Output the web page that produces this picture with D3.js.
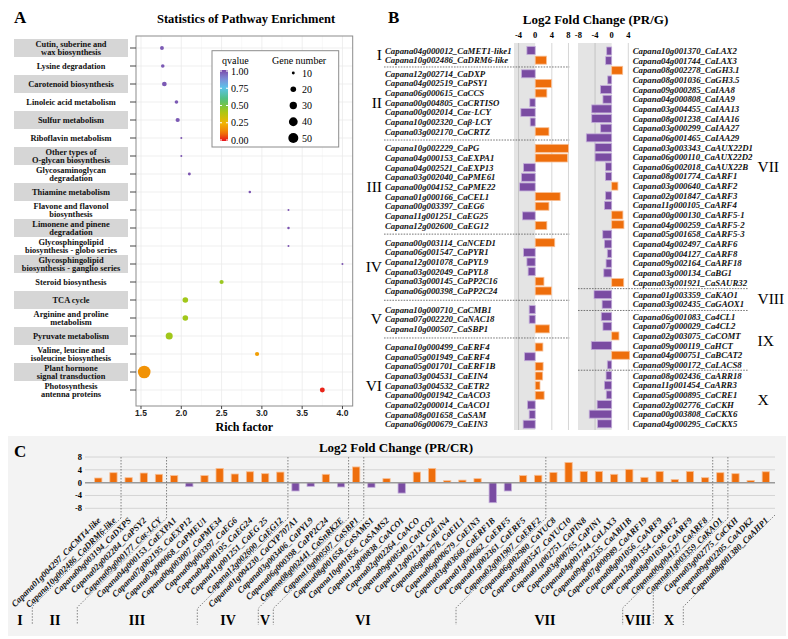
<!DOCTYPE html>
<html><head><meta charset="utf-8">
<script src="https://cdn.jsdelivr.net/npm/d3@7"></script>
<style>body{margin:0;background:#fff} svg{display:block}</style>
</head><body><svg id="c" width="788" height="639"></svg>
<script>
// ---------------- DATA ----------------
// Panel A
const pathways = [
 "Cutin, suberine and\nwax biosynthesis","Lysine degradation","Carotenoid biosynthesis","Linoleic acid metabolism",
 "Sulfur metabolism","Riboflavin metabolism","Other types of\nO-glycan biosynthesis","Glycosaminoglycan\ndegradation",
 "Thiamine metabolism","Flavone and flavonol\nbiosynthesis","Limonene and pinene\ndegradation",
 "Glycosphingolipid\nbiosynthesis - globo series","Glycosphingolipid\nbiosynthesis - ganglio series",
 "Steroid biosynthesis","TCA cycle","Arginine and proline\nmetabolism","Pyruvate metabolism",
 "Valine, leucine and\nisoleucine biosynthesis","Plant hormone\nsignal transduction","Photosynthesis\nantenna proteins"];
const richFactor = [1.76,1.77,1.79,1.94,1.955,2.0,2.0,2.1,2.85,3.33,3.33,3.33,4.0,2.5,2.05,2.05,1.85,2.94,1.54,3.75];
const qvalue     = [0.97,0.97,0.97,0.97,0.97,0.98,0.98,0.98,0.98,0.98,0.98,0.98,0.98,0.44,0.43,0.43,0.43,0.2,0.17,0.02];
const geneNumber = [13,12,16,12,14,8,8,10,9,8,9,8,8,14,20,20,28,14,76,17];
const richTicks = [1.5,2.0,2.5,3.0,3.5,4.0];
const qTicks = [1.00,0.75,0.50,0.25,0.00];
const sizeTicks = [10,20,30,40,50];

// Panel B
const groupsLeft = ["I","II","III","IV","V","VI"];
const groupSizeLeft = [2,7,9,6,3,9];
const genesLeft = [
 "Capana04g000012_CaMET1-like1","Capana10g002486_CaDRM6-like",
 "Capana12g002714_CaDXP","Capana04g002519_CaPSY1","Capana06g000615_CaCCS","Capana00g004805_CaCRTISO","Capana00g002014_Caε-LCY","Capana10g002320_Caβ-LCY","Capana03g002170_CaCRTZ",
 "Capana10g002229_CaPG","Capana04g000153_CaEXPA1","Capana04g002521_CaEXP13","Capana03g002040_CaPME61","Capana00g004152_CaPME22","Capana01g000166_CaCEL1","Capana00g003397_CaEG6","Capana11g001251_CaEG25","Capana12g002600_CaEG12",
 "Capana00g003114_CaNCED1","Capana06g001547_CaPYR1","Capana12g001078_CaPYL9","Capana03g002049_CaPYL8","Capana03g000145_CaPP2C16","Capana06g000398_CaPP2C24",
 "Capana10g000710_CaCMB1","Capana07g002220_CaNAC18","Capana10g000507_CaSBP1",
 "Capana10g000499_CaERF4","Capana05g001949_CaERF4","Capana05g001701_CaERF1B","Capana03g004531_CaEIN4","Capana03g004532_CaETR2","Capana00g001942_CaACO3","Capana02g000014_CaACO1","Capana08g001658_CaSAM","Capana06g000679_CaEIN3"];
const fcLeft = [-2.0,2.7, -3.3,3.9,2.8,-1.3,-3.45,-1.2,3.3, 8.0,7.75,-2.8,-3.3,-3.75,6.0,3.3,-3.05,2.8,
 4.7,-2.8,-2.0,-1.7,2.1,3.9, -1.45,-1.45,3.4, 1.85,-2.55,1.9,1.8,1.15,2.15,-1.85,-1.45,-2.9];
const groupsRight = ["VII","VIII","IX","X"];
const groupSizeRight = [25,2,6,6];
const genesRight = [
 "Capana10g001370_CaLAX2","Capana04g001744_CaLAX3","Capana08g002278_CaGH3.1","Capana08g001036_CaGH3.5","Capana09g000285_CaIAA8","Capana04g000808_CaIAA9","Capana03g004455_CaIAA13","Capana08g001238_CaIAA16","Capana03g000299_CaIAA27","Capana06g001465_CaIAA29","Capana03g003343_CaAUX22D1","Capana06g000110_CaAUX22D2","Capana06g002018_CaAUX22B","Capana08g001774_CaARF1","Capana03g000640_CaARF2","Capana02g001847_CaARF3","Capana11g000105_CaARF4","Capana00g000130_CaARF5-1","Capana04g000259_CaARF5-2","Capana05g001658_CaARF5-3","Capana04g002497_CaARF6","Capana00g004127_CaARF8","Capana09g002164_CaARF18","Capana03g000134_CaBG1","Capana03g001921_CaSAUR32",
 "Capana01g003359_CaKAO1","Capana03g002435_CaGAOX1",
 "Capana06g001083_Ca4CL1","Capana07g000029_Ca4CL2","Capana02g003075_CaCOMT","Capana09g000119_CaHCT","Capana04g000751_CaBCAT2","Capana09g000172_CaLACS8",
 "Capana08g002436_CaARR18","Capana11g001454_CaARR3","Capana05g000895_CaCRE1","Capana02g002776_CaCKH","Capana00g003808_CaCKX6","Capana04g000295_CaCKX5"];
const fcRight = [-1.2,-1.45,2.65,-0.95,-2.7,-2.1,-4.8,-4.8,-2.65,-6.1,-4.0,-4.0,-1.5,-1.5,1.5,-1.5,-1.75,2.7,2.95,-2.15,-1.75,-1.05,-1.35,-1.9,2.9,
 -4.25,-2.3, -2.5,-2.1,1.75,-4.9,4.3,-1.05, -1.35,-1.75,-1.3,-3.5,-5.4,-3.4];
const ticksBLeft = [-4,0,4,8];
const ticksBRight = [-8,-4,0,4];

// Panel C
const groupsC = ["I","II","III","IV","V","VI","VII","VIII","X"];
const groupSizeC = [2,3,8,4,1,12,11,1,3];
const genesC = [
 "Capana01g004297_CaCMT4-like","Capana10g002486_CaDRM6-like",
 "Capana00g003194_CaDXPS","Capana02g002284_CaPSY2","Capana09g000177_Caε-LCY",
 "Capana04g000153_CaEXPA1","Capana07g002195_CaEXP12","Capana03g000068_CaPMEU1","Capana00g003007_CaPME34","Capana00g003397_CaEG6","Capana04g000195_CaEG24","Capana11g001251_CaEG 25","Capana12g002600_CaEG12",
 "Capana01g004230_CaCYP707A1","Capana03g003406_CaPYL9","Capana06g000398_CaPP2C24","Capana08g002441_CaSnRK2E",
 "Capana10g000507_CaSBP1",
 "Capana08g001658_CaSAMS1","Capana10g001856_CaSAMS2","Capana12g000838_CaACO1","Capana02g002264_CaACO","Capana09g000540_CaACO2","Capana12g002124_CaEIN4","Capana06g000678_CaEIL1","Capana06g000679_CaEIN3","Capana03g003660_CaERF1B","Capana01g000662_CaERF5","Capana01g002361_CaERF5","Capana02g001907_CaERF2",
 "Capana06g002980_CaYUC8","Capana03g003547_CaYUC10","Capana01g002751_CaPIN8","Capana03g000765_CaPIN1","Capana04g001744_CaLAX3","Capana09g002235_CaABI1B","Capana07g000989_CaARF19","Capana08g001056_CaARF9","Capana12g001354_CaARF2","Capana08g001036_CaARF9","Capana00g004127_CaARF8",
 "Capana01g003359_CaKAO1",
 "Capana03g002775_CaCKH","Capana09g002205_CaADK2","Capana08g001380_CaAHP1"];
const fcC = [1.45,3.1, 1.55,3.0,2.6, 2.2,-1.25,2.2,4.45,2.7,3.4,2.8,3.3, -2.6,-1.15,2.6,-1.35, 4.9,
 -1.45,1.25,-3.25,3.3,4.45,0.6,0.8,1.25,-6.25,-2.6,2.2,2.3,
 3.2,6.3,3.5,3.5,2.6,4.15,1.65,3.5,1.0,3.5,1.55, 3.1, 2.8,0.7,3.4];
const ticksC = [8,4,0,-4,-8];

// ---------------- LAYOUT / STYLE ----------------
const serif = "'Liberation Serif','Times New Roman',serif";
const sans = "'Liberation Sans',Arial,sans-serif";
const PURPLE = "#7a4ca2", ORANGE = "#ee6e0c";
const PURPLE_EDGE = "#c2acd9", ORANGE_EDGE = "#f8bf94";
const svg = d3.select("#c");

// ======== PANEL A ========
const A = svg.append("g");
A.append("text").attr("x",14).attr("y",23).text("A")
 .attr("font-family",serif).attr("font-weight","bold").attr("font-size",17);
A.append("text").attr("x",246).attr("y",23).attr("text-anchor","middle").text("Statistics of Pathway Enrichment")
 .attr("font-family",serif).attr("font-weight","bold").attr("font-size",12.5);

const pA = {l:136, r:352.7, t:36, b:406};
const xA = d3.scaleLinear().domain([1.438,4.127]).range([pA.l,pA.r]);
const yA = d3.scalePoint().domain(pathways).range([48,390]);
const colorQ = d3.scaleLinear()
 .domain([0,0.12,0.25,0.42,0.58,0.75,0.88,1])
 .range(["#e8121c","#f07c08","#f2b400","#a6c814","#4fbf78","#5cc3ea","#7f8ad6","#7a48a8"]);
const rA = d3.scaleRadial().domain([8,76]).range([1,6.3]);

A.append("rect").attr("x",pA.l).attr("y",pA.t).attr("width",pA.r-pA.l).attr("height",pA.b-pA.t).attr("fill","#fff");
A.selectAll(".gx").data(richTicks).join("line")
 .attr("x1",d=>xA(d)).attr("x2",d=>xA(d)).attr("y1",pA.t).attr("y2",pA.b).attr("stroke","#ebebeb").attr("stroke-width",0.8);
A.selectAll(".gxm").data(richTicks.map(d=>d+0.25).filter(d=>d<4.12)).join("line")
 .attr("x1",d=>xA(d)).attr("x2",d=>xA(d)).attr("y1",pA.t).attr("y2",pA.b).attr("stroke","#f4f4f4").attr("stroke-width",0.6);
A.selectAll(".gy").data(pathways).join("line")
 .attr("x1",pA.l).attr("x2",pA.r).attr("y1",d=>yA(d)).attr("y2",d=>yA(d)).attr("stroke","#ebebeb").attr("stroke-width",0.8);
A.append("rect").attr("x",pA.l).attr("y",pA.t).attr("width",pA.r-pA.l).attr("height",pA.b-pA.t)
 .attr("fill","none").attr("stroke","#8c8c8c").attr("stroke-width",1);

// y ticks + labels
A.selectAll(".yt").data(pathways).join("line")
 .attr("x1",130).attr("x2",pA.l).attr("y1",d=>yA(d)).attr("y2",d=>yA(d)).attr("stroke","#444").attr("stroke-width",1);
A.selectAll(".lb").data(pathways.filter((d,i)=>i%2===0)).join("rect")
 .attr("x",14).attr("width",114).attr("y",d=>yA(d)-9).attr("height",18).attr("fill","#d6d6d6");
pathways.forEach(p=>{
  const lines = p.split("\n");
  lines.forEach((ln,k)=>{
    const y0 = yA(p) + 3 + (lines.length===2 ? (k===0?-4.1:4.1) : 0);
    A.append("text").attr("x",71).attr("y",y0).attr("text-anchor","middle").attr("font-family",serif)
      .attr("font-weight","bold").attr("font-size",8.4).attr("fill","#111").text(ln);
  });
});
// x ticks
A.selectAll(".xt").data(richTicks).join("line")
 .attr("x1",d=>xA(d)).attr("x2",d=>xA(d)).attr("y1",pA.b).attr("y2",pA.b+3).attr("stroke","#444");
A.selectAll(".xl").data(richTicks).join("text")
 .attr("x",d=>xA(d)).attr("y",pA.b+9.5).attr("text-anchor","middle").text(d=>d.toFixed(1))
 .attr("font-family",sans).attr("font-weight","bold").attr("font-size",8.5).attr("fill","#222");
A.append("text").attr("x",(pA.l+pA.r)/2).attr("y",431).attr("text-anchor","middle").text("Rich factor")
 .attr("font-family",serif).attr("font-weight","bold").attr("font-size",12);

// points
const idx = d3.range(pathways.length).sort((a,b)=>geneNumber[b]-geneNumber[a]);
A.selectAll(".pt").data(idx).join("circle")
 .attr("cx",i=>xA(richFactor[i])).attr("cy",i=>yA(pathways[i])).attr("r",i=>rA(geneNumber[i]))
 .attr("fill",i=>colorQ(qvalue[i]));

// legend
const L = A.append("g");
L.append("rect").attr("x",212).attr("y",50.7).attr("width",126.7).attr("height",96.3)
 .attr("fill","#fff").attr("stroke","#8c8c8c").attr("stroke-width",1);
L.append("text").attr("x",222).attr("y",64).text("qvalue").attr("font-family",serif).attr("font-size",10);
L.append("text").attr("x",272).attr("y",64).text("Gene number").attr("font-family",serif).attr("font-size",10);
const grad = svg.append("defs").append("linearGradient").attr("id","qg").attr("x1",0).attr("x2",0).attr("y1",0).attr("y2",1);
d3.range(0,1.0001,0.05).forEach(t=>grad.append("stop").attr("offset",t).attr("stop-color",colorQ(1-t)));
const yQ = d3.scaleLinear().domain([1,0]).range([71,140]);
L.append("rect").attr("x",220).attr("y",70).attr("width",8).attr("height",71).attr("fill","url(#qg)");
L.selectAll(".qt").data(qTicks).join("line")
 .attr("x1",220).attr("x2",222).attr("y1",d=>yQ(d)).attr("y2",d=>yQ(d)).attr("stroke","#fff");
L.selectAll(".qt2").data(qTicks).join("line")
 .attr("x1",226).attr("x2",228).attr("y1",d=>yQ(d)).attr("y2",d=>yQ(d)).attr("stroke","#fff");
L.selectAll(".ql").data(qTicks).join("text")
 .attr("x",231).attr("y",d=>yQ(d)+3.5).text(d=>d.toFixed(2)).attr("font-family",serif).attr("font-size",10);
const ySz = d3.scalePoint().domain(sizeTicks).range([73,138]);
L.selectAll(".sc").data(sizeTicks).join("circle")
 .attr("cx",293.3).attr("cy",d=>ySz(d)).attr("r",d=>rA(d)).attr("fill","#000");
L.selectAll(".sl").data(sizeTicks).join("text")
 .attr("x",302).attr("y",d=>ySz(d)+3.5).text(d=>d).attr("font-family",serif).attr("font-size",10);

// ======== PANEL B ========
const B = svg.append("g");
B.append("text").attr("x",388).attr("y",23).text("B")
 .attr("font-family",serif).attr("font-weight","bold").attr("font-size",17);
B.append("text").attr("x",595.5).attr("y",24).attr("text-anchor","middle").text("Log2 Fold Change (PR/G)")
 .attr("font-family",serif).attr("font-weight","bold").attr("font-size",13);

const rowH = 9.65;
const gapsLeft = [4,7,7.5,9,8.5], gapsRight = [2.4,2.7,1.0];
function rowPositions(sizes, y0, gaps){
  const ys=[], grp=[]; let y=y0;
  sizes.forEach((n,g)=>{
    if(g>0) y += gaps[g-1];
    for(let k=0;k<n;k++){ ys.push(y); grp.push(g); y+=rowH; }
  });
  return {ys, grp};
}
const LP = rowPositions(groupSizeLeft, 50.5, gapsLeft);
const RP = rowPositions(groupSizeRight, 51, gapsRight);
const xBL = d3.scaleLinear().domain([-5.1,8.2]).range([514,569.3]);
const xBR = d3.scaleLinear().domain([-8.1,4]).range([578,628.3]);
const bTop = 43, bBot = 430;

function drawBarPanel(g, xs, vals, ys, ticks, gridVals){
  g.append("rect").attr("x",xs.range()[0]).attr("y",bTop).attr("width",xs(0)-xs.range()[0]).attr("height",bBot-bTop).attr("fill","#e4e4e4");
  g.selectAll(null).data(gridVals).join("line")
   .attr("x1",d=>xs(d)).attr("x2",d=>xs(d)).attr("y1",bTop).attr("y2",bBot)
   .attr("stroke",d=>d<0?"#c4c4c4":"#d6d6d6").attr("stroke-width",1);
  g.selectAll(null).data(ticks).join("text")
   .attr("x",d=>xs(d)).attr("y",38).attr("text-anchor","middle").text(d=>d)
   .attr("font-family",serif).attr("font-weight","bold").attr("font-size",8.5);
  g.selectAll(null).data(vals).join("rect")
   .attr("x",d=>Math.min(xs(0),xs(d))).attr("width",d=>Math.abs(xs(d)-xs(0)))
   .attr("y",(d,i)=>ys[i]-4).attr("height",8)
   .attr("fill",d=>d<0?PURPLE:ORANGE).attr("stroke",d=>d<0?PURPLE_EDGE:ORANGE_EDGE).attr("stroke-width",0.8);
}
drawBarPanel(B.append("g"), xBL, fcLeft, LP.ys, ticksBLeft, [-4,4,8]);
drawBarPanel(B.append("g"), xBR, fcRight, RP.ys, ticksBRight, [-4,4]);

// labels
B.selectAll(".gl").data(genesLeft).join("text")
 .attr("x",385).attr("y",(d,i)=>LP.ys[i]+3).text(d=>d)
 .attr("font-family",serif).attr("font-style","italic").attr("font-weight","bold").attr("font-size",8.8).attr("fill","#111");
B.selectAll(".gr").data(genesRight).join("text")
 .attr("x",632.7).attr("y",(d,i)=>RP.ys[i]+3).text(d=>d)
 .attr("font-family",serif).attr("font-style","italic").attr("font-weight","bold").attr("font-size",8.8).attr("fill","#111");

function groupCenters(P, n){ return d3.range(n).map(g=>d3.mean(P.ys.filter((y,i)=>P.grp[i]===g))); }
function groupSeps(P, n){ return d3.range(1,n).map(g=>{ const a=P.ys[P.grp.indexOf(g)-1], b=P.ys[P.grp.indexOf(g)]; return (a+b)/2; }); }
const cL = groupCenters(LP, groupsLeft.length), cR = groupCenters(RP, groupsRight.length);
B.selectAll(".nl").data(groupsLeft).join("text")
 .attr("x",382).attr("y",(d,i)=>cL[i]+5).attr("text-anchor","end").text(d=>d)
 .attr("font-family",serif).attr("font-size",15.5);
B.selectAll(".nr").data(groupsRight).join("text")
 .attr("x",757.5).attr("y",(d,i)=>cR[i]+5).text(d=>d)
 .attr("font-family",serif).attr("font-size",15.5);
B.selectAll(".sl").data(groupSeps(LP, groupsLeft.length)).join("line")
 .attr("x1",384).attr("x2",569.3).attr("y1",d=>d).attr("y2",d=>d)
 .attr("stroke","#555").attr("stroke-width",0.8).attr("stroke-dasharray","1.6,1.2");
B.selectAll(".sr").data(groupSeps(RP, groupsRight.length)).join("line")
 .attr("x1",578).attr("x2",748).attr("y1",d=>d).attr("y2",d=>d)
 .attr("stroke","#555").attr("stroke-width",0.8).attr("stroke-dasharray","1.6,1.2");

// ======== PANEL C ========
const C = svg.append("g");
C.append("rect").attr("x",8).attr("y",436).attr("width",778).attr("height",200).attr("fill","#f3f3f3");
C.append("text").attr("x",14).attr("y",457).text("C")
 .attr("font-family",serif).attr("font-weight","bold").attr("font-size",17);
C.append("text").attr("x",396).attr("y",452).attr("text-anchor","middle").text("Log2 Fold Change (PR/CR)")
 .attr("font-family",serif).attr("font-weight","bold").attr("font-size",13);

const xC = d3.scaleBand().domain(d3.range(genesC.length)).range([90.7,773.4]).paddingInner(0.52).paddingOuter(0.26);
const yC = d3.scaleLinear().domain([-8,8]).range([508.3,457]);
const cx = i => xC(i)+xC.bandwidth()/2;
C.selectAll(".gc").data(ticksC.filter(d=>d!==0)).join("line")
 .attr("x1",85).attr("x2",775).attr("y1",d=>yC(d)).attr("y2",d=>yC(d)).attr("stroke","#d4d4d4").attr("stroke-width",1);
C.selectAll(".tc").data(ticksC).join("text")
 .attr("x",82).attr("y",d=>yC(d)+3).attr("text-anchor","end").text(d=>d)
 .attr("font-family",serif).attr("font-weight","bold").attr("font-size",8.5);
C.selectAll(".bc").data(fcC).join("rect")
 .attr("x",(d,i)=>xC(i)).attr("width",xC.bandwidth())
 .attr("y",d=>Math.min(yC(0),yC(d))).attr("height",d=>Math.abs(yC(d)-yC(0)))
 .attr("fill",d=>d<0?PURPLE:ORANGE).attr("stroke",d=>d<0?PURPLE_EDGE:ORANGE_EDGE).attr("stroke-width",0.8);
C.append("line").attr("x1",85).attr("x2",775).attr("y1",yC(0)).attr("y2",yC(0)).attr("stroke","#9a9a9a").attr("stroke-width",1.5);

// labels rotated
C.selectAll(".lc").data(genesC).join("text")
 .attr("transform",(d,i)=>`translate(${cx(i)+3},521) rotate(-45)`)
 .attr("text-anchor","end").text(d=>d)
 .attr("font-family",serif).attr("font-style","italic").attr("font-weight","bold").attr("font-size",8.8).attr("fill","#111");

// dividers
const cum = Array.from(d3.cumsum(groupSizeC));
const divTop = cum.slice(0,-1).map(k=>xC.step()*k + xC.range()[0]);
divTop.push(775);
const divBottomX = [32.3,77.3,197.3,258.3,273.3,456,622.7,653.3,683.3];
const groupLabelX = [20,55,137,228,265,363,545,638,669];
const dash = {stroke:"#666", w:0.8, da:"1.5,1.5"};
divTop.forEach((d,k)=>{
  if(k<divTop.length-1){
    C.append("line").attr("x1",d).attr("x2",d).attr("y1",457).attr("y2",518)
     .attr("stroke",dash.stroke).attr("stroke-width",dash.w).attr("stroke-dasharray",dash.da);
  }
  const y0 = k<divTop.length-1 ? 518 : 515;
  const bx = divBottomX[k], by = y0 + (d-bx);
  C.append("path").attr("d",`M${d},${y0}L${bx},${by}L${bx},625`).attr("fill","none")
   .attr("stroke",dash.stroke).attr("stroke-width",dash.w).attr("stroke-dasharray",dash.da);
});
C.selectAll(".glc").data(groupsC).join("text")
 .attr("x",(d,i)=>groupLabelX[i]).attr("y",625).attr("text-anchor","middle").text(d=>d)
 .attr("font-family",serif).attr("font-weight","bold").attr("font-size",14);
</script></body></html>
